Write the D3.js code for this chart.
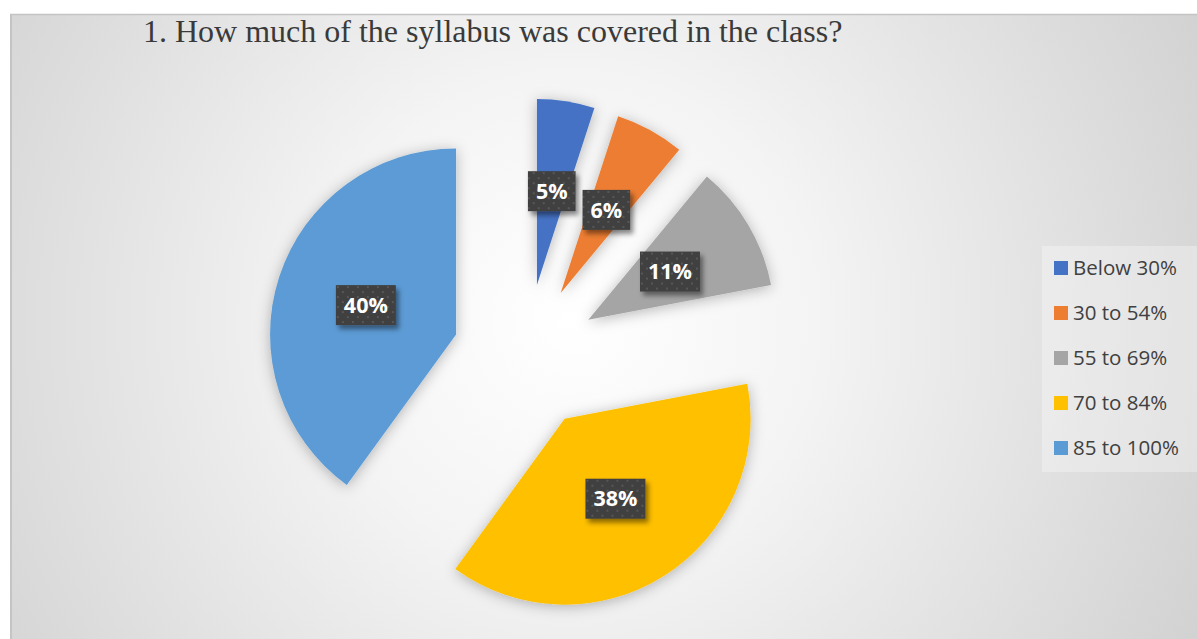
<!DOCTYPE html>
<html>
<head>
<meta charset="utf-8">
<script src="https://cdnjs.cloudflare.com/ajax/libs/d3/7.8.5/d3.min.js"></script>
<style>
  html, body { margin: 0; padding: 0; background: #ffffff; }
  svg { display: block; }
</style>
</head>
<body>
<svg id="chart" width="1197" height="639"></svg>
<script>
// ---- data ----
const title = "1. How much of the syllabus was covered in the class?";
const categories = ["Below 30%", "30 to 54%", "55 to 69%", "70 to 84%", "85 to 100%"];
const values = [5, 6, 11, 38, 40];
const valueLabels = ["5%", "6%", "11%", "38%", "40%"];
const colors = ["#4472C4", "#ED7D31", "#A5A5A5", "#FFC000", "#5B9BD5"];

const W = 1197, H = 639;
const svg = d3.select("#chart");
const defs = svg.append("defs");

// background gradient
const grad = defs.append("radialGradient")
  .attr("id", "bg").attr("gradientUnits", "userSpaceOnUse")
  .attr("cx", 570).attr("cy", 320).attr("r", 700);
grad.append("stop").attr("offset", "0").attr("stop-color", "#ffffff");
grad.append("stop").attr("offset", "0.35").attr("stop-color", "#f4f4f4");
grad.append("stop").attr("offset", "1").attr("stop-color", "#d2d2d2");

// slice shadow
const sh = defs.append("filter").attr("id", "sliceShadow")
  .attr("x", "-30%").attr("y", "-30%").attr("width", "160%").attr("height", "160%");
sh.append("feDropShadow").attr("dx", 0).attr("dy", 2).attr("stdDeviation", 7)
  .attr("flood-color", "#000").attr("flood-opacity", 0.28);

// label shadow
const lsh = defs.append("filter").attr("id", "labelShadow")
  .attr("x", "-30%").attr("y", "-30%").attr("width", "170%").attr("height", "170%");
lsh.append("feDropShadow").attr("dx", 3).attr("dy", 4).attr("stdDeviation", 2.5)
  .attr("flood-color", "#000").attr("flood-opacity", 0.45);

// dotted pattern for label boxes
const pat = defs.append("pattern").attr("id", "dots")
  .attr("patternUnits", "userSpaceOnUse").attr("width", 10).attr("height", 10);
pat.append("rect").attr("width", 10).attr("height", 10).attr("fill", "#404040");
pat.append("rect").attr("x", 1).attr("y", 1).attr("width", 2).attr("height", 2).attr("fill", "#575757");
pat.append("rect").attr("x", 6).attr("y", 6).attr("width", 2).attr("height", 2).attr("fill", "#575757");

// chart area
svg.append("rect").attr("x", 10).attr("y", 14).attr("width", W - 10).attr("height", H - 14)
  .attr("fill", "url(#bg)");
svg.append("line").attr("x1", 10).attr("y1", 14.5).attr("x2", W).attr("y2", 14.5)
  .attr("stroke", "#c4c4c4").attr("stroke-width", 1.5);
svg.append("line").attr("x1", 11).attr("y1", 14).attr("x2", 11).attr("y2", H)
  .attr("stroke", "#c4c4c4").attr("stroke-width", 2);

// title
svg.append("text").attr("x", 143).attr("y", 42)
  .attr("font-family", "'Liberation Serif', 'Times New Roman', serif")
  .attr("font-size", 32).attr("fill", "#3a3a3a")
  .text(title);

// pie
const cx = 525.5, cy = 357, R = 186, explode = 73;
const pie = d3.pie().sort(null).value(d => d)
  .startAngle(0).endAngle(2 * Math.PI);
const arcs = pie(values);
const arcGen = d3.arc().innerRadius(0).outerRadius(R);

const g = svg.append("g").attr("transform", `translate(${cx},${cy})`);

function offset(a, dist) {
  const mid = (a.startAngle + a.endAngle) / 2;
  return [Math.sin(mid) * dist, -Math.cos(mid) * dist];
}

g.selectAll("path.slice").data(arcs).enter().append("path")
  .attr("class", "slice")
  .attr("d", arcGen)
  .attr("fill", (d, i) => colors[i])
  .attr("filter", "url(#sliceShadow)")
  .attr("transform", d => { const o = offset(d, explode); return `translate(${o[0]},${o[1]})`; });

// labels
const labelDist = explode + R * 0.51;
const lg = g.selectAll("g.lbl").data(arcs).enter().append("g")
  .attr("class", "lbl")
  .attr("transform", d => { const o = offset(d, labelDist); return `translate(${o[0]},${o[1]})`; });

lg.each(function(d, i) {
  const el = d3.select(this);
  const rect = el.append("rect").attr("fill", "url(#dots)").attr("filter", "url(#labelShadow)");
  const t = el.append("text")
    .attr("text-anchor", "middle").attr("dy", "0.36em")
    .attr("font-family", "'Open Sans', 'Noto Sans', sans-serif")
    .attr("font-weight", "bold").attr("font-size", 21.5)
    .attr("fill", "#ffffff")
    .text(valueLabels[i]);
  const w = t.node().getComputedTextLength() + 16;
  const h = 40;
  rect.attr("x", -w / 2).attr("y", -h / 2).attr("width", w).attr("height", h);
});

// legend
const legX = 1042, legY = 246;
svg.append("rect").attr("x", legX).attr("y", legY).attr("width", W - legX).attr("height", 226)
  .attr("fill", "#ffffff").attr("fill-opacity", 0.3);
const legY0 = 268, legStep = 45;
const li = svg.selectAll("g.leg").data(categories).enter().append("g")
  .attr("class", "leg")
  .attr("transform", (d, i) => `translate(${legX + 12},${legY0 + i * legStep})`);
li.append("rect").attr("x", 0).attr("y", -7).attr("width", 14).attr("height", 14)
  .attr("fill", (d, i) => colors[i]);
li.append("text").attr("x", 19).attr("dy", "0.36em")
  .attr("font-family", "'Open Sans', 'Noto Sans', sans-serif")
  .attr("font-size", 20.5).attr("fill", "#404040")
  .text(d => d);
</script>
</body>
</html>
